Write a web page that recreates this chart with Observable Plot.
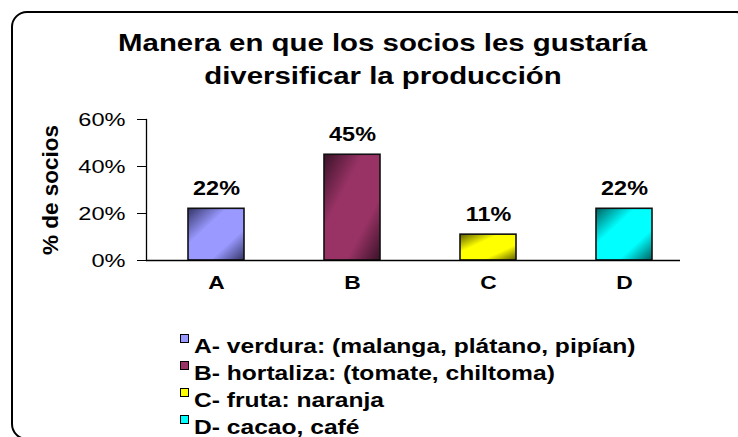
<!DOCTYPE html>
<html>
<head>
<meta charset="utf-8">
<script src="https://cdn.jsdelivr.net/npm/d3@7"></script>
<script src="https://cdn.jsdelivr.net/npm/@observablehq/plot@0.6"></script>
<style>
  html, body { margin: 0; padding: 0; background: #fff; }
  #page { position: relative; width: 738px; height: 437px; overflow: hidden; background: #fff;
          font-family: Arial, "Liberation Sans", sans-serif; color: #000; }
  #frame { position: absolute; left: 11px; top: 11px; width: 741px; height: 429px; box-sizing: border-box;
           border: 2px solid #000; border-radius: 16px; pointer-events: none; }
  #title { height: 100px; box-sizing: border-box; padding-top: 27px; padding-left: 28px; text-align: center;
           font-size: 23.5px; font-weight: bold; line-height: 33px; }
  #title span { display: inline-block; transform: scaleX(1.25); transform-origin: 50% 50%; white-space: nowrap; }
  #chart svg { display: block; }
  #legend { padding-top: 31.5px; font-size: 20.5px; font-weight: bold; line-height: 27px; }
  .row { position: relative; height: 27px; padding-left: 194px; white-space: nowrap; }
  .row .lab { display: inline-block; transform: scaleX(1.2); transform-origin: 0 50%; }
  .sw { position: absolute; left: 180px; top: 2px; width: 9px; height: 9px; box-sizing: border-box; border: 1px solid #000; }
</style>
</head>
<body>
<div id="page">
  <div id="title"></div>
  <div id="chart"></div>
  <div id="legend"></div>
  <div id="frame"></div>
</div>
<script>
const titleLines = ["Manera en que los socios les gustaría", "diversificar la producción"];
const categories = ["A", "B", "C", "D"];
const values = [22, 45, 11, 22];
const yTicks = [0, 20, 40, 60];
const yLabel = "% de socios";
const legendLabels = [
  "A- verdura: (malanga, plátano, pipían)",
  "B- hortaliza: (tomate, chiltoma)",
  "C- fruta: naranja",
  "D- cacao, café"
];
const lightColors = ["#9999FF", "#993366", "#FFFF00", "#00FFFF"];
const darkColors = ["#333366", "#3a1227", "#5c5c00", "#006060"];

const data = categories.map((c, i) => ({cat: c, value: values[i]}));

const title = d3.select("#title");
titleLines.forEach((t, i) => {
  if (i > 0) title.append("br");
  title.append("span").text(t);
});

const chart = Plot.plot({
  width: 738,
  height: 200,
  marginTop: 19,
  marginBottom: 40,
  marginLeft: 146,
  marginRight: 58,
  style: {fontFamily: "Arial, 'Liberation Sans', sans-serif", background: "white", color: "#000", overflow: "visible"},
  x: {domain: categories, paddingInner: 0.59, paddingOuter: 0.245, align: 0.6},
  y: {domain: [0, 60]},
  color: {type: "identity"},
  marks: [
    Plot.barY(data, {x: "cat", y: "value", fill: d => `url(#grad-${d.cat})`, stroke: "#111", strokeWidth: 1.6}),
    Plot.ruleY([0], {stroke: "#000", strokeWidth: 1.3}),
    Plot.frame({anchor: "left", stroke: "#000", strokeWidth: 1.3}),
    Plot.axisY({ticks: yTicks, tickFormat: d => d + "%", tickSize: 9, tickPadding: 12, fontSize: 19,
                label: null}),
    Plot.axisY({ticks: [], tickSize: 0, fontSize: 22.5, fontWeight: "bold",
                label: yLabel, labelAnchor: "center", labelArrow: "none", labelOffset: 104}),
    Plot.axisX({tickSize: 0, tickPadding: 15, fontSize: 19, fontWeight: "bold", label: null}),
    Plot.text(data, {x: "cat", y: "value", text: d => d.value + "%", lineAnchor: "bottom", dy: -14,
                     fontSize: 20, fontWeight: "bold"})
  ]
});

// gradients for bars
const defs = d3.select(chart).insert("defs", ":first-child");
categories.forEach((c, i) => {
  const g = defs.append("linearGradient").attr("id", `grad-${c}`)
    .attr("x1", 0).attr("y1", 0).attr("x2", 1).attr("y2", 1);
  g.append("stop").attr("offset", 0).attr("stop-color", darkColors[i]);
  g.append("stop").attr("offset", 0.35).attr("stop-color", lightColors[i]);
  g.append("stop").attr("offset", 0.7).attr("stop-color", lightColors[i]);
  g.append("stop").attr("offset", 1).attr("stop-color", darkColors[i]);
});

document.getElementById("chart").appendChild(chart);

// text styling: the reference text is horizontally stretched
const tickLabels = new Set(yTicks.map(v => v + "%"));
d3.select(chart).selectAll("text").each(function() {
  const t = this.textContent.trim();
  if (t.includes("socios")) {
    this.style.fontSize = "22.5px";
    this.style.fontWeight = "bold";
    return;
  }
  let k = 1.2;
  if (this.closest('g[aria-label="text"]')) k = 1.17;
  else if (tickLabels.has(t)) k = 1.24;
  const len = this.getComputedTextLength();
  this.setAttribute("textLength", (len * k).toFixed(2));
  this.setAttribute("lengthAdjust", "spacingAndGlyphs");
});

// legend
const legend = d3.select("#legend");
legendLabels.forEach((lab, i) => {
  const row = legend.append("div").attr("class", "row");
  row.append("span").attr("class", "sw").style("background", lightColors[i]);
  row.append("span").attr("class", "lab").text(lab);
});
</script>
</body>
</html>
